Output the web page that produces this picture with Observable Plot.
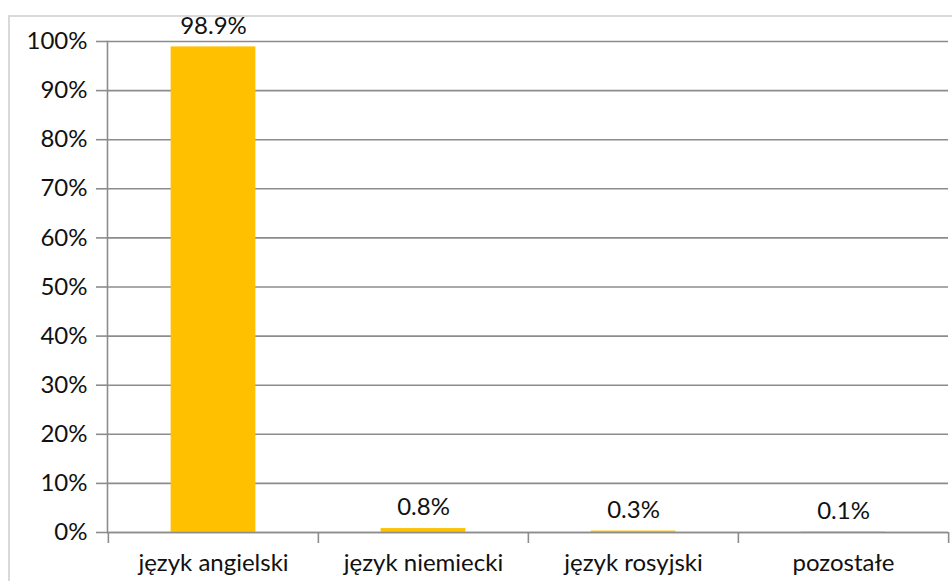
<!DOCTYPE html>
<html>
<head>
<meta charset="utf-8">
<script src="https://cdn.jsdelivr.net/npm/d3@7"></script>
<script src="https://cdn.jsdelivr.net/npm/@observablehq/plot@0.6"></script>
<style>
  html, body { margin: 0; padding: 0; background: #fff; overflow: hidden; }
  #wrap { position: relative; width: 952px; height: 581px; overflow: hidden; }
  #border { position: absolute; left: 8px; top: 15px; width: 1000px; height: 1000px; border: 2px solid #d9d9d9; box-sizing: border-box; pointer-events: none; }
  #chart { position: absolute; left: 0; top: 0; }
</style>
</head>
<body>
<div id="wrap"><div id="border"></div><div id="chart"></div></div>
<script>
const categories = ["język angielski", "język niemiecki", "język rosyjski", "pozostałe"];
const values = [98.9, 0.8, 0.3, 0.1];
const yTicks = [0, 10, 20, 30, 40, 50, 60, 70, 80, 90, 100];

const data = categories.map((c, i) => ({category: c, value: values[i]}));

const W = 952, H = 581;
const mL = 107, mR = 4, mT = 41, mB = 49;
const bw = (W - mL - mR) / categories.length;
const barW = 85;
const inset = (bw - barW) / 2;
const font = "Lato, 'Noto Sans', sans-serif";
const gridColor = "#8c8c8c";
const fs = 24;

const chart = Plot.plot({
  width: W,
  height: H,
  marginLeft: mL,
  marginRight: mR,
  marginTop: mT,
  marginBottom: mB,
  style: {fontFamily: font, fontSize: fs + "px", color: "#111", background: "transparent"},
  x: {domain: categories, padding: 0},
  y: {domain: [0, 100]},
  marks: [
    Plot.gridY(yTicks, {stroke: gridColor, strokeOpacity: 1, strokeWidth: 1.6}),
    Plot.axisY(yTicks, {tickFormat: d => d + "%", tickSize: 11, tickPadding: 9, stroke: gridColor, strokeWidth: 1.6, fontSize: fs, label: null}),
    Plot.frame({anchor: "left", stroke: gridColor, strokeWidth: 1.6}),
    Plot.barY(data, {x: "category", y: "value", fill: "#ffc000", insetLeft: inset, insetRight: inset}),
    Plot.ruleY([0], {stroke: gridColor, strokeWidth: 1.6}),
    Plot.ruleX(categories, {x: d => d, y1: 0, y2: 0, insetBottom: -11, dx: -bw / 2, stroke: gridColor, strokeWidth: 1.6}),
    Plot.ruleX(categories.slice(-1), {x: d => d, y1: 0, y2: 0, insetBottom: -11, dx: bw / 2, stroke: gridColor, strokeWidth: 1.6}),
    Plot.axisX({tickSize: 0, tickPadding: 21, fontSize: fs, label: null}),
    Plot.text(data, {x: "category", y: "value", text: d => d.value.toFixed(1) + "%", dy: -21, fontSize: fs, fill: "#111"})
  ]
});
document.getElementById("chart").appendChild(chart);
</script>
</body>
</html>
